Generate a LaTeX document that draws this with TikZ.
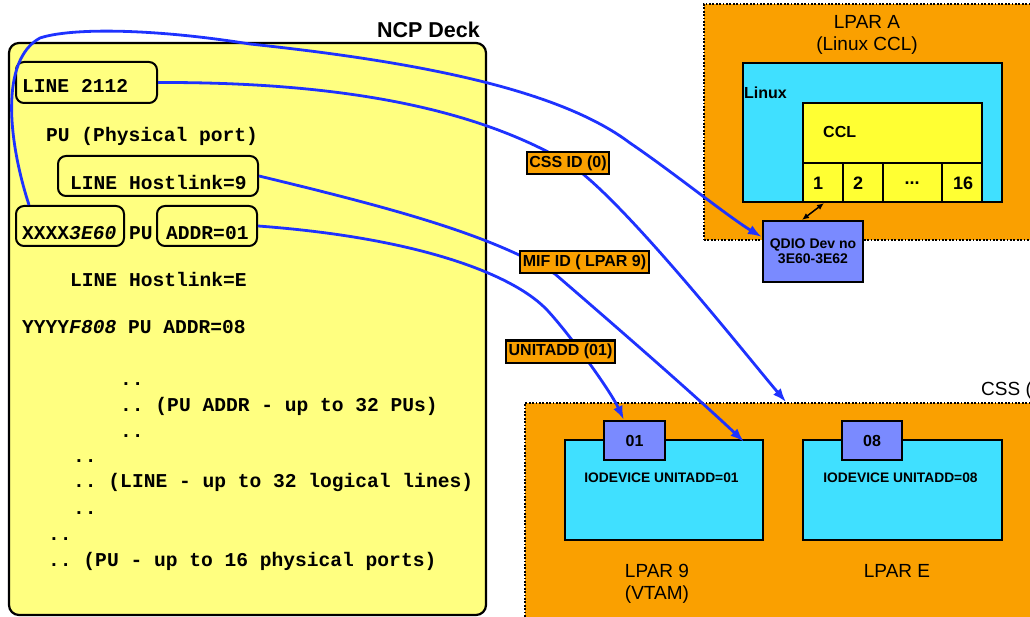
\documentclass[tikz,border=0pt]{standalone}
\usepackage{fontspec}
\setmainfont{Liberation Sans}
\setmonofont{Liberation Mono}
\usetikzlibrary{arrows.meta}

\definecolor{deckyellow}{RGB}{255,255,128}
\definecolor{cclyellow}{RGB}{255,255,51}
\definecolor{lparorange}{RGB}{250,160,0}
\definecolor{oscyan}{RGB}{64,224,255}
\definecolor{devblue}{RGB}{122,138,255}
\definecolor{linkblue}{RGB}{30,50,255}

\tikzset{
  sized/.style 2 args={minimum width=#1, minimum height=#2, inner sep=0pt},
  deck/.style={draw=black, line width=2.2pt, fill=deckyellow, rounded corners=10pt},
  ibox/.style={draw=black, line width=2pt, rounded corners=8pt},
  mono/.style={anchor=base west, inner sep=0pt, font=\fontsize{19.6}{24}\selectfont\ttfamily\bfseries},
  partition/.style={draw=black, line width=1.6pt, dash pattern=on 1.8pt off 1.6pt, fill=lparorange},
  solidbox/.style={draw=black, line width=2.2pt},
  big/.style={font=\fontsize{19}{22}\selectfont, inner sep=0pt},
  boldlbl/.style={font=\fontsize{#1}{#1}\selectfont\bfseries, inner sep=0pt},
  link/.style={draw=linkblue, line width=2.8pt, -{Latex[length=14pt,width=10pt]}},
  tag/.style={draw=black, line width=2pt, fill=lparorange, font=\fontsize{16}{18}\selectfont\bfseries,
              inner xsep=2.5pt, inner ysep=0pt, minimum height=22pt},
}

\begin{document}
\begin{tikzpicture}[x=1pt, y=-1pt]
\useasboundingbox (0,0) rectangle (1030,617);
\clip (0,0) rectangle (1030,617);

% ---------- LPAR A (Linux CCL) ----------
\node[partition, sized={341}{236}] (lparA) at (874.5,122) {};
\node[big] (lparAt1) at (867,22) {LPAR A};
\node[big] (lparAt2) at (867,46) {(Linux CCL)};
\node[solidbox, fill=oscyan, sized={259}{139}] (linux) at (872.5,132.5) {};
\node[boldlbl=16, anchor=base west] (linuxt) at (744,99) {Linux};
\node[solidbox, fill=cclyellow, sized={179}{60}] (ccl) at (892.5,133) {};
\node[boldlbl=16, anchor=base west] (cclt) at (823,138) {CCL};
\node[solidbox, fill=cclyellow, sized={40}{39}] (c1) at (823,182.5) {};
\node[solidbox, fill=cclyellow, sized={40}{39}] (c2) at (863,182.5) {};
\node[solidbox, fill=cclyellow, sized={59}{39}] (c3) at (912.5,182.5) {};
\node[solidbox, fill=cclyellow, sized={40}{39}] (c4) at (962,182.5) {};
\node[boldlbl=18] (c1t) at (818,183) {1};
\node[boldlbl=18] (c2t) at (858,183) {2};
\node[boldlbl=18] (c3t) at (912,183) {...};
\node[boldlbl=18] (c4t) at (963,183) {16};
\node[solidbox, fill=devblue, sized={100}{61}, align=center,
      font=\fontsize{14}{15}\selectfont\bfseries] (qdio) at (813,251.5) {QDIO Dev no\\3E60-3E62};
\draw[line width=1.5pt, {Latex[length=7pt,width=6pt]}-{Latex[length=7pt,width=6pt]}]
  ([xshift=1pt]c1.south) -- ([xshift=-11pt]qdio.north);

% ---------- CSS with LPAR 9 and LPAR E ----------
\node[partition, sized={520}{227}] (css) at (785,516.5) {};
\node[big, anchor=west] (csst) at (981,391) {CSS (0)};
\node[solidbox, fill=oscyan, sized={198}{100}] (lpar9) at (664,490) {};
\node[solidbox, fill=oscyan, sized={199}{100}] (lparE) at (902.5,490) {};
\node[solidbox, fill=devblue, sized={61}{39}, boldlbl=16] (n01) at (634.5,440.5) {01};
\node[solidbox, fill=devblue, sized={60}{39}, boldlbl=16] (n08) at (872,440.5) {08};
\node[boldlbl=13.8] (io01) at (661.5,478) {IODEVICE UNITADD=01};
\node[boldlbl=13.8] (io08) at (900.5,478) {IODEVICE UNITADD=08};
\node[big] (l9a) at (657,571) {LPAR 9};
\node[big] (l9b) at (657,595) {(VTAM)};
\node[big] (lE) at (897,571) {LPAR E};

% ---------- NCP deck ----------
\node[deck, sized={477}{572}] (deck) at (247.5,329) {};
\node[boldlbl=21.5, anchor=base east] (deckt) at (480,38) {NCP Deck};
\node[ibox, sized={141}{41}] (b2112) at (86.5,82.5) {};
\node[ibox, sized={200}{40}] (bhost9) at (158,176) {};
\node[ibox, sized={108}{40}] (bxxxx) at (70,226) {};
\node[ibox, sized={100}{40}] (baddr) at (207,226) {};

\node[mono] (t1) at (22,93) {LINE 2112};
\node[mono] (t2) at (46,142) {PU (Physical port)};
\node[mono] (t3) at (70,190) {LINE Hostlink=9};
\node[mono] (t4) at (22,240) {XXXX\textit{3E60}};
\node[mono] (t5) at (129,240) {PU};
\node[mono] (t6) at (166,240) {ADDR=01};
\node[mono] (t7) at (70,287) {LINE Hostlink=E};
\node[mono] (t8) at (22,334) {YYYY\textit{F808} PU ADDR=08};
\node[mono] (t9) at (120,385) {..};
\node[mono] (t10) at (120,411) {.. (PU ADDR - up to 32 PUs)};
\node[mono] (t11) at (120,437) {..};
\node[mono] (t12) at (73,462) {..};
\node[mono] (t13) at (73,487) {.. (LINE - up to 32 logical lines)};
\node[mono] (t14) at (73,514) {..};
\node[mono] (t15) at (48,540) {..};
\node[mono] (t16) at (48,566) {.. (PU - up to 16 physical ports)};

% ---------- definitions linked across the systems ----------
\draw[link] ([xshift=14pt]bxxxx.north west)
  .. controls (8,140) and (0,60) .. (40,38)
  .. controls (70,28) and (150,28) .. (250,44)
  .. controls (420,62) and (560,90) .. (630,143)
  .. controls (670,170) and (730,218) .. ([yshift=14.5pt]qdio.west);
\draw[link] (b2112.east)
  .. controls (330,82) and (470,105) .. (568,163)
  .. controls (620,195) and (750,360) .. ([xshift=262pt]css.north west);
\draw[link] (bhost9.east)
  .. controls (400,210) and (490,235) .. (555,274)
  .. controls (620,330) and (700,400) .. ([xshift=-20pt,yshift=-3pt]lpar9.north east);
\draw[link] (baddr.east)
  .. controls (420,238) and (515,275) .. (548,311)
  .. controls (570,335) and (610,390) .. ([xshift=21pt]n01.north west);

\node[tag] (tagcss) at (568,163) {CSS ID (0)};
\node[tag] (tagmif) at (584.5,262.5) {MIF ID ( LPAR 9)};
\node[tag] (tagunit) at (560.5,351.5) {UNITADD (01)};
\end{tikzpicture}
\end{document}
